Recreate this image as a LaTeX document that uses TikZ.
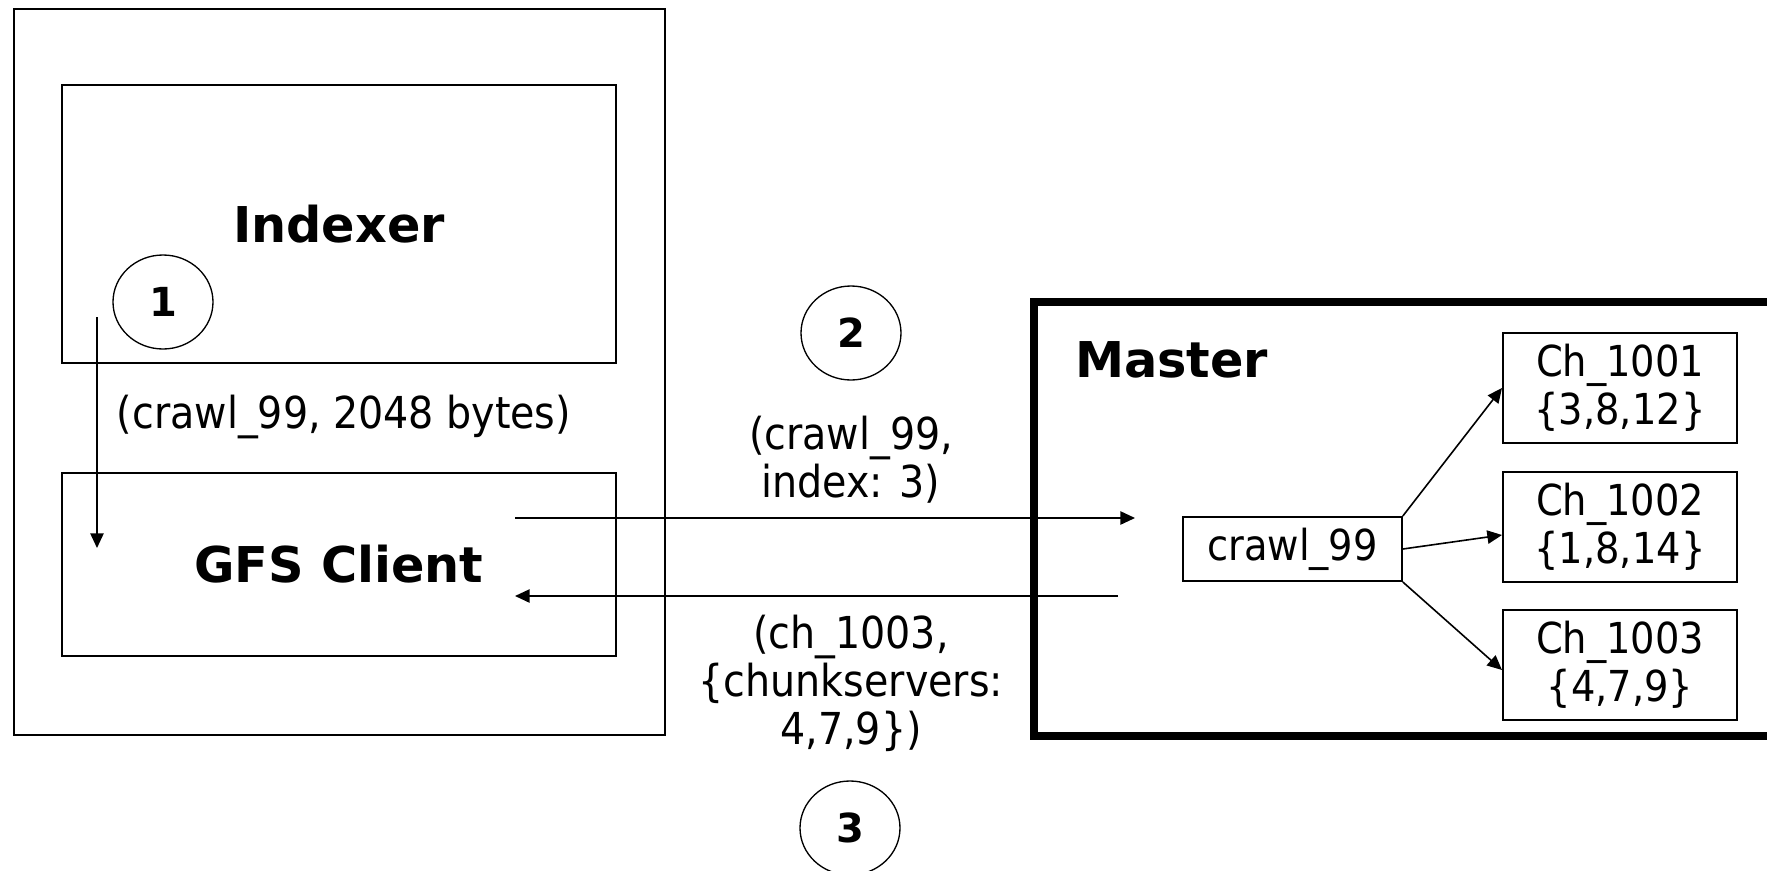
\documentclass[tikz,border=0pt]{standalone}
\usepackage{fontspec}
\setmainfont{DejaVu Sans Condensed}
\newfontfamily\headfont{DejaVu Sans}
\usetikzlibrary{arrows.meta,shapes.geometric,calc}

\tikzset{every picture/.style={line width=1.5pt}}
\tikzset{
  part/.style={draw, rectangle, inner sep=0pt, minimum width=416pt, font=\headfont\bfseries\fontsize{37}{44}\selectfont},
  chunk/.style={draw, rectangle, inner sep=0pt, minimum width=175.5pt, minimum height=82.5pt, align=center, font=\fontsize{32}{36}\selectfont},
  msg/.style={align=center, inner sep=0pt, font=\fontsize{33}{36}\selectfont},
  stepnum/.style={draw, ellipse, line width=1pt, inner sep=0pt, minimum width=75pt, minimum height=70.5pt, font=\headfont\bfseries\fontsize{30}{36}\selectfont},
  link/.style={line width=1.2pt, -{Triangle[length=11pt,width=10pt]}},
}

\begin{document}
\begin{tikzpicture}[x=0.75pt,y=0.75pt,yscale=-1, xscale=1]
\useasboundingbox (0,0) rectangle (1767,871);

%Shape: Rectangle [application side]
\draw (13.5,9) rectangle (665,735);
\node[part, minimum height=209pt] (indexer) at (339,224) {Indexer};
\node[part, minimum height=137pt] (client) at (339,564.5) {GFS Client};

%Shape: Rectangle [master, heavy frame]
\draw[line width=6pt] (1034,302) rectangle (1772,736);
\node[anchor=west, inner sep=0pt, font=\headfont\bfseries\fontsize{37}{44}\selectfont] (master) at (1074,360) {Master};

% File entry and its chunks
\node[draw, rectangle, inner sep=0pt, minimum width=164pt, minimum height=48pt, font=\fontsize{32}{36}\selectfont] (file) at (1292.5,549) {crawl\_99};
\node[chunk] (ch1) at (1620,388) {Ch\_1001\\\{3,8,12\}};
\node[chunk] (ch2) at (1620,527) {Ch\_1002\\\{1,8,14\}};
\node[chunk] (ch3) at (1620,665) {Ch\_1003\\\{4,7,9\}};

\draw[link] (file.north east) -- (ch1.west);
\draw[link] (file.east) -- ($(ch2.west)+(0,8)$);
\draw[link] (file.south east) -- ($(ch3.west)+(0,5)$);

% Steps
\node[stepnum] (s1) at (163,302) {1};
\node[stepnum] (s2) at (851,333) {2};
\node[stepnum] (s3) at (850,828) {3};

% Text Node
\node[msg] (size) at (344,417) {(crawl\_99, 2048 bytes)};
% Text Node
\node[msg] (req) at (851,460) {(crawl\_99,\\index: 3)};
% Text Node
\node[msg] (reply) at (851,683) {(ch\_1003,\\\{chunkservers:\\4,7,9\})};

% Messages
\coordinate (a1) at (97,317);
\coordinate (b1) at (97,548);
\draw[link] (a1) -- (b1);

\coordinate (a2) at (515,518);
\coordinate (b2) at (1135,518);
\draw[link] (a2) -- (b2);

\coordinate (a3) at (1118,596);
\coordinate (b3) at (515,596);
\draw[link] (a3) -- (b3);
\end{tikzpicture}
\end{document}
